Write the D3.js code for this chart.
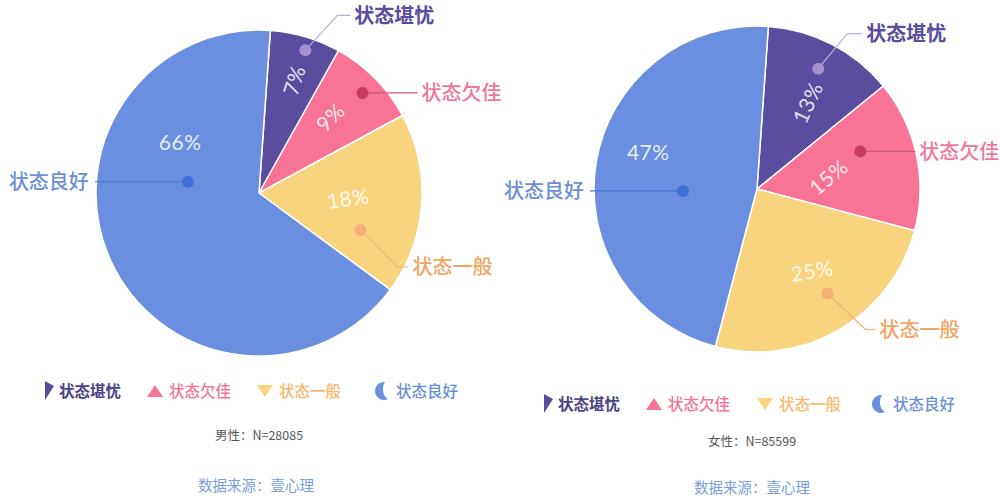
<!DOCTYPE html>
<html>
<head>
<meta charset="utf-8">
<script src="https://cdn.jsdelivr.net/npm/d3@7/dist/d3.min.js"></script>
<style>
  html, body { margin: 0; padding: 0; background: #fff; }
  svg { display: block; font-family: "Noto Sans CJK SC", "Noto Sans", sans-serif; }
</style>
</head>
<body>
<svg id="chart" width="1000" height="502"></svg>
<script>
// ── data ──────────────────────────────────────────────
const categories = ['状态堪忧', '状态欠佳', '状态一般', '状态良好'];
const maleValues = [7, 9, 18, 66];
const femaleValues = [13, 15, 25, 47];
const maleNote = '男性：N=28085';
const femaleNote = '女性：N=85599';
const sourceText = '数据来源：壹心理';

// ── styles ────────────────────────────────────────────
const sliceColors = ['#5a4c9f', '#f87396', '#f8d47f', '#6a8fe0'];
const labelColors = ['#5a4c9f', '#f0779a', '#f2a463', '#6b8fd6'];
const legendColors = ['#4c4486', '#f07598', '#f6b96d', '#6b8fd6'];
const dotColors = ['#a690d2', '#c83a62', '#f5ae74', '#3f6fd6'];
const lineColors = ['#b9b4d2', '#c9587a', '#f0b27e', '#4a74d0'];

// per-pie layout: centre, radius, label placement (polar, deg clockwise from top)
const pies = [
  {
    values: maleValues, note: maleNote, cx: 259, cy: 193, r: 163,
    pct:  [[17, 118, -72], [43, 104, -45], [93, 89, -8], [303, 94, 0]],
    dot:  [[18, 150], [46, 144], [110, 108], [279, 72]],
    lead: [[32, -35, 13], [0, 0, 55], [37, 37, 11], [0, 0, -93]],
    legendY: 391, legendX: [45, 155, 265, 382],
    noteY: 435, noteX: 259, srcX: 256, srcY: 486
  },
  {
    values: femaleValues, note: femaleNote, cx: 757, cy: 189, r: 163,
    pct:  [[30, 100, -65], [80, 72, -40], [146, 98, -10], [289, 115, 0]],
    dot:  [[27, 135], [70, 110], [146, 126], [268.5, 74]],
    lead: [[29, -35, 15], [0, 0, 55], [38, 36, 10], [0, 0, -93]],
    legendY: 404, legendX: [544, 654, 765, 879],
    noteY: 441, noteX: 752, srcX: 752, srcY: 488
  }
];

const svg = d3.select('#chart');
const startOffset = 4 * Math.PI / 180;

const pie = d3.pie().sort(null).value(d => d)
  .startAngle(startOffset).endAngle(2 * Math.PI + startOffset);

function polar(cx, cy, deg, rad) {
  const a = deg * Math.PI / 180;
  return [cx + rad * Math.sin(a), cy - rad * Math.cos(a)];
}

// legend icons
function legendIcon(g, i, color) {
  if (i === 0) {
    g.append('path').attr('d', 'M0,-10 L9,-5 L0,9 Z').attr('fill', color);
  } else if (i === 1) {
    g.append('path').attr('d', 'M0,-6 L8,6 L-8,6 Z').attr('fill', color);
  } else if (i === 2) {
    g.append('path').attr('d', 'M-8,-6 L8,-6 L0,6 Z').attr('fill', color);
  } else {
    g.append('path')
      .attr('d', 'M3,-9 A9,9 0 1,0 6,8 A9,11 0 0,1 3,-9 Z')
      .attr('fill', color);
  }
}

pies.forEach(p => {
  const g = svg.append('g');
  const arcs = pie(p.values);
  const arc = d3.arc().innerRadius(0).outerRadius(p.r);

  g.append('g').attr('transform', `translate(${p.cx},${p.cy})`)
    .selectAll('path').data(arcs).join('path')
    .attr('d', arc)
    .attr('fill', (d, i) => sliceColors[i])
    .attr('stroke', '#fff')
    .attr('stroke-width', 1.5);

  // percentage labels
  g.selectAll('text.pct').data(arcs).join('text')
    .attr('class', 'pct')
    .attr('transform', (d, i) => {
      const [x, y] = polar(p.cx, p.cy, p.pct[i][0], p.pct[i][1]);
      return `translate(${x},${y}) rotate(${p.pct[i][2]})`;
    })
    .attr('text-anchor', 'middle')
    .attr('dominant-baseline', 'central')
    .attr('font-family', 'Lato, "Noto Sans", sans-serif')
    .attr('font-weight', 400)
    .attr('font-size', 21)
    .attr('letter-spacing', 0.5)
    .attr('fill', 'rgba(255,255,255,0.86)')
    .text(d => d.data + '%');

  // leader lines, dots and names
  arcs.forEach((d, i) => {
    const [dx, dy] = polar(p.cx, p.cy, p.dot[i][0], p.dot[i][1]);
    const [ox, oy, h] = p.lead[i];
    const ex = dx + ox, ey = dy + oy;
    const fx = ex + h;
    g.append('path')
      .attr('d', `M${dx},${dy} L${ex},${ey} L${fx},${ey}`)
      .attr('fill', 'none')
      .attr('stroke', lineColors[i])
      .attr('stroke-width', 1.2);
    g.append('circle').attr('cx', dx).attr('cy', dy).attr('r', 6)
      .attr('fill', dotColors[i]);
    g.append('text')
      .attr('x', h >= 0 ? fx + 4 : fx - 6)
      .attr('y', ey)
      .attr('dy', '0.36em')
      .attr('text-anchor', h >= 0 ? 'start' : 'end')
      .attr('font-size', 20)
      .attr('font-weight', i === 0 ? 700 : 500)
      .attr('fill', labelColors[i])
      .text(categories[i]);
  });

  // legend
  categories.forEach((c, i) => {
    const lg = g.append('g').attr('transform', `translate(${p.legendX[i]},${p.legendY})`);
    legendIcon(lg, i, sliceColors[i]);
    lg.append('text')
      .attr('x', 14).attr('dy', '0.36em')
      .attr('font-size', 15.5)
      .attr('font-weight', i === 0 ? 700 : 500)
      .attr('fill', legendColors[i])
      .text(c);
  });

  g.append('text')
    .attr('x', p.noteX).attr('y', p.noteY).attr('dy', '0.36em')
    .attr('text-anchor', 'middle')
    .attr('font-size', 12.5)
    .attr('fill', '#555')
    .text(p.note);

  g.append('text')
    .attr('x', p.srcX).attr('y', p.srcY).attr('dy', '0.36em')
    .attr('text-anchor', 'middle')
    .attr('font-size', 14.5)
    .attr('fill', '#7c9de0')
    .text(sourceText);
});
</script>
</body>
</html>
